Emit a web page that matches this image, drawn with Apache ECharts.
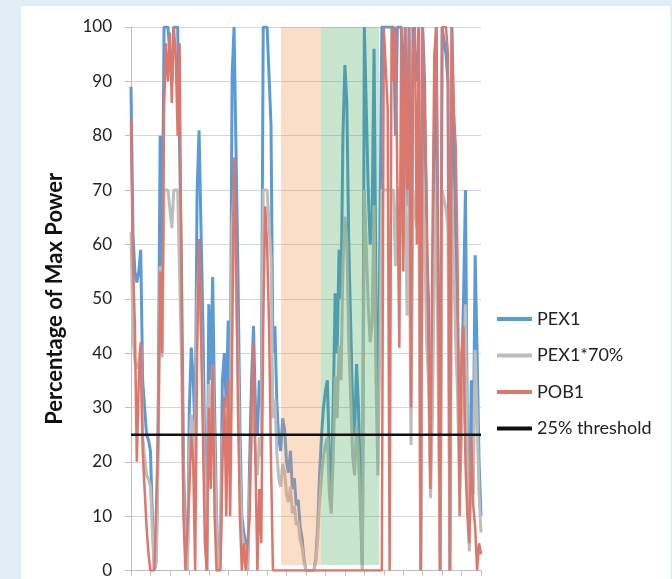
<!DOCTYPE html>
<html>
<head>
    <meta charset="utf-8">
    <script src="https://cdn.jsdelivr.net/npm/echarts@6/dist/echarts.min.js"></script>
</head>
<body style="margin:0;background-color:#e1eef6;">
    <div id="main" style="position:absolute;left:21px;top:6px;width:649px;height:573px;background:#fff;"></div>
    <script type="text/javascript">
        // values, one sample every ~2px along the time axis
        var pex1 = [
            89,62,55,53,55,59,35,30,25,24,
            22,10,0,2,30,80,56,100,100,100,
            100,90,100,100,100,100,55,20,5,0,
            30,41,35,25,70,81,63,45,20,0,
            49,35,54,30,10,0,3,35,40,30,
            46,30,91,100,100,55,27,10,7,5,
            0,20,35,45,30,25,35,30,100,100,
            100,100,82,40,45,31,24,22,28,26,
            20,18,22,15,17,12,13,8,6,2,
            0,0,0,0,0,2,8,18,25,30,
            33,35,20,15,30,51,40,59,50,80,
            93,86,60,45,30,25,38,30,15,0,
            100,100,70,60,65,96,50,25,60,100,
            100,100,100,100,100,100,80,100,100,100,
            85,100,67,100,33,100,100,90,100,0,
            100,90,60,50,19,40,80,100,100,0,
            100,100,95,90,0,100,80,60,45,20,
            35,50,70,25,5,35,20,58,40,20,
            10
        ];
        var pex1_70 = [
            62.3,43.4,38.5,37.1,38.5,41.3,24.5,21,17.5,16.8,
            15.4,7,0,1.4,21,56,39.2,70,70,70,
            70,63,70,70,70,70,38.5,14,3.5,0,
            21,28.7,24.5,17.5,49,56.7,44.1,31.5,14,0,
            34.3,24.5,37.8,21,7,0,2.1,24.5,28,21,
            32.2,21,63.7,70,70,38.5,18.9,7,4.9,3.5,
            0,14,24.5,31.5,21,17.5,24.5,21,70,70,
            70,70,57.4,28,31.5,21.7,16.8,15.4,19.6,18.2,
            14,12.6,15.4,10.5,11.9,8.4,9.1,5.6,4.2,1.4,
            0,0,0,0,0,1.4,5.6,12.6,17.5,21,
            23.1,24.5,14,10.5,21,35.7,28,41.3,35,56,
            65.1,60.2,42,31.5,21,17.5,26.6,21,10.5,0,
            70,70,49,42,45.5,67.2,35,17.5,42,70,
            70,70,70,70,70,70,56,70,70,70,
            59.5,70,46.9,70,23.1,70,70,63,70,0,
            70,63,42,35,13.3,28,56,70,70,0,
            70,70,66.5,63,0,70,56,42,31.5,14,
            24.5,35,49,17.5,3.5,24.5,14,40.6,28,14,
            7
        ];
        var pob1 = [
            83,57,45,20,35,42,22,15,8,3,
            0,0,0,0,25,55,40,85,97,90,
            99,86,100,95,80,97,50,10,0,0,
            15,25,20,0,40,61,45,25,5,0,
            30,15,38,10,0,0,0,20,32,10,
            35,10,40,76,60,30,10,0,5,0,
            0,10,30,42,20,0,15,5,45,67,
            60,45,20,0,0,0,0,0,0,0,
            0,0,0,0,0,0,0,0,0,0,
            0,0,0,0,0,0,0,0,0,0,
            0,0,0,0,0,0,0,0,0,0,
            0,0,0,0,0,0,0,0,0,0,
            0,0,0,0,0,0,0,0,0,0,
            100,100,85,0,100,90,100,100,41,100,
            55,100,70,100,30,95,100,60,100,0,
            100,85,70,40,15,60,95,100,100,0,
            100,100,100,95,0,100,85,78,55,10,
            40,45,20,10,5,25,12,8,0,5,
            3
        ];
        var threshold = 25;
        var seriesNames = ['PEX1', 'PEX1*70%', 'POB1', '25% threshold'];
        // shaded periods: [from, to, bottom, top] in sample positions / percent
        var bands = [
            [77.2, 97.7, 1, 100],
            [97.7, 127.7, 1, 100]
        ];
        var bandColors = ['rgba(245,145,72,0.3)', 'rgba(52,163,70,0.27)'];

        function pairs(arr) {
            return arr.map(function (v, i) { return [i, v]; });
        }

        var myChart = echarts.init(document.getElementById('main'));
        var last = pex1.length - 1;

        var option = {
            animation: false,
            textStyle: { fontFamily: 'Lato' },
            grid: { left: 110, top: 21, right: 189, bottom: 8 },
            legend: {
                data: seriesNames.map(function (n) { return { name: n, icon: 'rect' }; }),
                orient: 'vertical',
                left: 471,
                top: 299,
                itemWidth: 35,
                itemHeight: 4,
                itemGap: 18.5,
                textStyle: { fontSize: 18, color: '#222', fontFamily: 'Lato' }
            },
            xAxis: {
                type: 'value',
                min: 0,
                max: last,
                interval: 10,
                axisLine: { lineStyle: { color: '#bfbfbf', width: 1 } },
                axisTick: { show: true, length: 5, lineStyle: { color: '#bfbfbf' } },
                axisLabel: { show: false },
                splitLine: { show: false }
            },
            yAxis: {
                type: 'value',
                min: 0,
                max: 100,
                interval: 10,
                name: 'Percentage of Max Power',
                nameLocation: 'middle',
                nameGap: 65,
                nameTextStyle: { fontSize: 22, fontWeight: 'bold', color: '#111', fontFamily: 'Lato' },
                axisLine: { show: true, lineStyle: { color: '#bfbfbf' } },
                axisTick: { show: true, length: 6, lineStyle: { color: '#bfbfbf' } },
                axisLabel: { fontSize: 17, color: '#222', margin: 19 },
                splitLine: { lineStyle: { color: '#d6d6d6', width: 1 } }
            },
            series: [
                {
                    name: 'PEX1', type: 'line', z: 2, symbol: 'none',
                    data: pairs(pex1),
                    itemStyle: { color: '#5b9bd5' },
                    lineStyle: { color: '#5b9bd5', width: 3 }
                },
                {
                    name: 'PEX1*70%', type: 'line', z: 2, symbol: 'none',
                    data: pairs(pex1_70),
                    itemStyle: { color: '#bdbdbd' },
                    lineStyle: { color: '#bdbdbd', width: 3 }
                },
                {
                    name: 'POB1', type: 'line', z: 2, symbol: 'none',
                    data: pairs(pob1),
                    itemStyle: { color: '#dd776c' },
                    lineStyle: { color: '#dd776c', width: 2.5 }
                },
                {
                    name: 'bands', type: 'custom', zlevel: 1, z: 3, silent: true,
                    data: bands,
                    encode: { x: [0, 1], y: [2, 3] },
                    renderItem: function (params, api) {
                        var p0 = api.coord([api.value(0), api.value(3)]);
                        var p1 = api.coord([api.value(1), api.value(2)]);
                        return {
                            type: 'rect',
                            shape: { x: p0[0], y: p0[1], width: p1[0] - p0[0], height: p1[1] - p0[1] },
                            style: { fill: bandColors[params.dataIndex] }
                        };
                    }
                },
                {
                    name: '25% threshold', type: 'line', zlevel: 1, z: 4, symbol: 'none',
                    data: [[0, threshold], [last, threshold]],
                    itemStyle: { color: '#111' },
                    lineStyle: { color: '#111', width: 2.5 }
                }
            ]
        };
        myChart.setOption(option);
    </script>
</body>
</html>
